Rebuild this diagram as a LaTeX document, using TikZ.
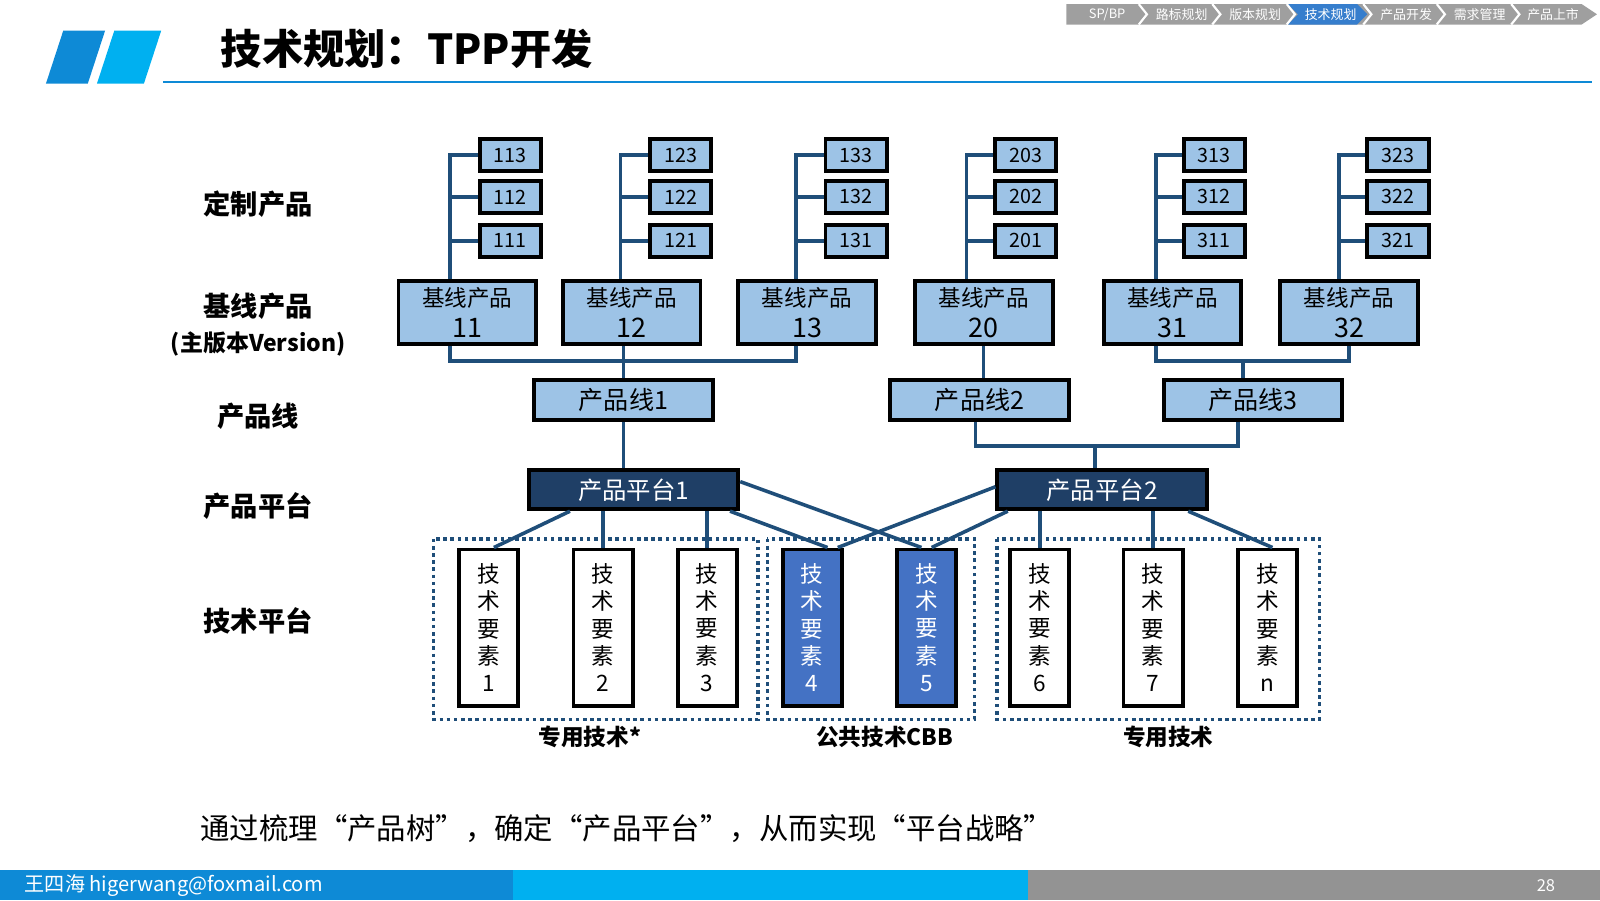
\documentclass[tikz,border=0pt]{standalone}
\usepackage{fontspec}
\setmainfont{Noto Sans CJK SC}
\usepackage{tikz}
\usetikzlibrary{positioning}
\definecolor{navy}{HTML}{1F4E79}
\definecolor{plat}{HTML}{1F3F66}
\definecolor{boxblue}{HTML}{9DC3E6}
\definecolor{techblue}{HTML}{4472C4}
\definecolor{hdblue}{HTML}{0E8AD6}
\definecolor{hdlight}{HTML}{00B0F0}
\begin{document}
\begin{tikzpicture}[
                    small/.style={draw, line width=1.1pt, fill=boxblue, minimum width=0.6cm, minimum height=0.31cm, inner sep=0, font=\fontsize{5.5}{6}\selectfont},
                    base/.style={draw, line width=1.1pt, fill=boxblue, minimum width=1.35cm, minimum height=0.62cm, inner sep=0, align=center, font=\fontsize{6.3}{7.2}\selectfont},
                    pline/.style={draw, line width=1.1pt, fill=boxblue, minimum width=1.75cm, minimum height=0.39cm, inner sep=0, font=\fontsize{7}{8}\selectfont},
                    pform/.style={draw, line width=1.1pt, fill=plat, text=white, minimum width=2.05cm, minimum height=0.38cm, inner sep=0, font=\fontsize{6.8}{8}\selectfont},
                    tech/.style={draw, line width=1.1pt, fill=white, minimum width=0.58cm, minimum height=1.53cm, inner sep=0, align=center, font=\fontsize{6.3}{7.6}\selectfont},
                    techB/.style={tech, fill=techblue, text=white},
                    link/.style={navy, line width=1pt},
                    group/.style={navy, densely dotted, line width=1pt},
                    rowlabel/.style={font=\bfseries\fontsize{7.6}{9}\selectfont},
                    grouplabel/.style={font=\bfseries\fontsize{6.3}{7}\selectfont},
                    crumb/.style={text=white, font=\fontsize{3.6}{4}\selectfont}
                    ]
    \useasboundingbox (0,0) rectangle (15.68,-8.82);

    % header
    \fill[hdblue]  (0.45,-0.82) -- (0.62,-0.30) -- (1.03,-0.30) -- (0.86,-0.82) -- cycle;
    \fill[hdlight] (0.95,-0.82) -- (1.12,-0.30) -- (1.58,-0.30) -- (1.41,-0.82) -- cycle;
    \node[anchor=west, font=\bfseries\fontsize{11.5}{13}\selectfont] (title) at (2.04,-0.48) {技术规划：TPP开发};
    \draw[hdblue, line width=0.5pt] (1.60,-0.80) -- (15.60,-0.80);

    % breadcrumb
    \fill[gray!75] (10.45,-0.04) -- (15.50,-0.04) -- (15.65,-0.14) -- (15.50,-0.24) -- (10.45,-0.24) -- cycle;
    \fill[techblue!80!hdlight] (12.62,-0.04) -- (13.30,-0.04) -- (13.40,-0.14) -- (13.30,-0.24) -- (12.62,-0.24) -- (12.72,-0.14) -- cycle;
    \foreach \x in {11.20,11.92,12.65,13.40,14.12,14.85}
        \draw[white, line width=0.6pt] (\x-0.04,-0.04) -- (\x+0.04,-0.14) -- (\x-0.04,-0.24);
    \node[crumb] (c1) at (10.85,-0.14) {SP/BP};
    \node[crumb] (c2) at (11.58,-0.14) {路标规划};
    \node[crumb] (c3) at (12.30,-0.14) {版本规划};
    \node[crumb] (c4) at (13.04,-0.14) {技术规划};
    \node[crumb] (c5) at (13.78,-0.14) {产品开发};
    \node[crumb] (c6) at (14.50,-0.14) {需求管理};
    \node[crumb] (c7) at (15.22,-0.14) {产品上市};

    % row labels
    \node[rowlabel] (r1) at (2.53,-2.00) {定制产品};
    \node[rowlabel] (r2) at (2.53,-3.00) {基线产品};
    \node[font=\bfseries\fontsize{6.4}{7}\selectfont] (r2b) at (2.53,-3.37) {(主版本Version)};
    \node[rowlabel] (r3) at (2.53,-4.08) {产品线};
    \node[rowlabel] (r4) at (2.53,-4.96) {产品平台};
    \node[rowlabel] (r5) at (2.53,-6.08) {技术平台};

    % custom and baseline products
    \foreach \p/\tx/\bx/\cx in {11/4.41/5.00/4.58, 12/6.08/6.67/6.19, 13/7.80/8.39/7.91,
                                20/9.47/10.05/9.64, 31/11.33/11.90/11.49, 32/13.12/13.70/13.22}{
        \node[base] (b\p) at (\cx,-3.06) {基线产品\\[1.5pt]\fontsize{7.5}{8}\selectfont\p};
        \node[small] (s\p3) at (\bx,-1.52) {\p3};
        \node[small] (s\p2) at (\bx,-1.93) {\p2};
        \node[small] (s\p1) at (\bx,-2.36) {\p1};
        \coordinate (tr\p) at (\tx,-1.52);
        \draw[link] (b\p.north -| tr\p) -- (tr\p) -- (s\p3.west);
        \draw[link] (s\p2.west -| tr\p) -- (s\p2.west);
        \draw[link] (s\p1.west -| tr\p) -- (s\p1.west);
    }

    % product lines
    \node[pline] (l1) at (6.11,-3.92) {产品线1};
    \node[pline] (l2) at (9.60,-3.92) {产品线2};
    \node[pline] (l3) at (12.28,-3.92) {产品线3};
    \coordinate (bus1) at (6.11,-3.54);
    \coordinate (bus3) at (12.18,-3.54);
    \coordinate (bus4) at (10.73,-4.37);
    \draw[link] (b11.south -| tr11) |- (bus1);
    \draw[link] (b12.south -| bus1) -- (l1.north);
    \draw[link] (b13.south -| tr13) |- (bus1);
    \draw[link] (b20.south) -- (b20.south |- l2.north);
    \draw[link] (b31.south -| tr31) |- (bus3);
    \draw[link] (b32.south) |- (bus3);
    \draw[link] (bus3) -- (bus3 |- l3.north);

    % product platforms
    \node[pform] (p1) at (6.21,-4.80) {产品平台1};
    \node[pform] (p2) at (10.80,-4.80) {产品平台2};
    \draw[link] (l1.south) -- (l1.south |- p1.north);
    \draw[link] (l2.south -| 9.56,0) |- (bus4);
    \draw[link] (l3.south -| 12.13,0) |- (bus4);
    \draw[link] (bus4) -- (bus4 |- p2.north);

    % technology elements
    \node[tech]  (k1) at (4.79,-6.15) {技\\术\\要\\素\\1};
    \node[tech]  (k2) at (5.91,-6.15) {技\\术\\要\\素\\2};
    \node[tech]  (k3) at (6.93,-6.15) {技\\术\\要\\素\\3};
    \node[techB] (k4) at (7.96,-6.15) {技\\术\\要\\素\\4};
    \node[techB] (k5) at (9.08,-6.15) {技\\术\\要\\素\\5};
    \node[tech]  (k6) at (10.19,-6.15) {技\\术\\要\\素\\6};
    \node[tech]  (k7) at (11.30,-6.15) {技\\术\\要\\素\\7};
    \node[tech]  (k8) at (12.42,-6.15) {技\\术\\要\\素\\n};

    \draw[group] (4.25,-5.28) rectangle (7.43,-7.05);
    \draw[group] (7.52,-5.28) rectangle (9.55,-7.05);
    \draw[group] (9.77,-5.28) rectangle (12.93,-7.05);
    \node[grouplabel] (g1) at (5.78,-7.22) {专用技术*};
    \node[grouplabel] (g2) at (8.67,-7.22) {公共技术CBB};
    \node[grouplabel] (g3) at (11.45,-7.22) {专用技术};

    % platform to element links
    \draw[link] ([xshift=0.42cm]p1.south west) -- ([xshift=0.05cm]k1.north);
    \draw[link] (k2.north |- p1.south) -- (k2.north);
    \draw[link] (k3.north |- p1.south) -- (k3.north);
    \draw[link] ([xshift=-0.1cm]p1.south east) -- ([xshift=0.15cm]k4.north);
    \draw[link] ([yshift=0.08cm]p1.east) -- ([xshift=-0.05cm]k5.north);
    \draw[link] ([yshift=0.03cm]p2.west) -- ([xshift=0.25cm]k4.north);
    \draw[link] ([xshift=0.12cm]p2.south west) -- ([xshift=0.05cm]k5.north);
    \draw[link] (k6.north |- p2.south) -- (k6.north);
    \draw[link] (k7.north |- p2.south) -- (k7.north);
    \draw[link] ([xshift=-0.2cm]p2.south east) -- ([xshift=0.05cm]k8.north);

    % bottom text and footer
    \node[anchor=west, font=\fontsize{8.2}{9}\selectfont] (note) at (1.84,-8.12) {通过梳理“产品树”，确定“产品平台”，从而实现“平台战略”};
    \fill[hdblue]  (0,-8.53) rectangle (5.03,-8.82);
    \fill[hdlight] (5.03,-8.53) rectangle (10.07,-8.82);
    \fill[gray!85] (10.07,-8.53) rectangle (15.68,-8.82);
    \node[anchor=west, text=white, font=\fontsize{5.6}{6}\selectfont] (author) at (0.12,-8.675) {王四海 higerwang@foxmail.com};
    \node[text=white, font=\fontsize{4.6}{5}\selectfont] (page) at (15.15,-8.675) {28};
\end{tikzpicture}
\end{document}
